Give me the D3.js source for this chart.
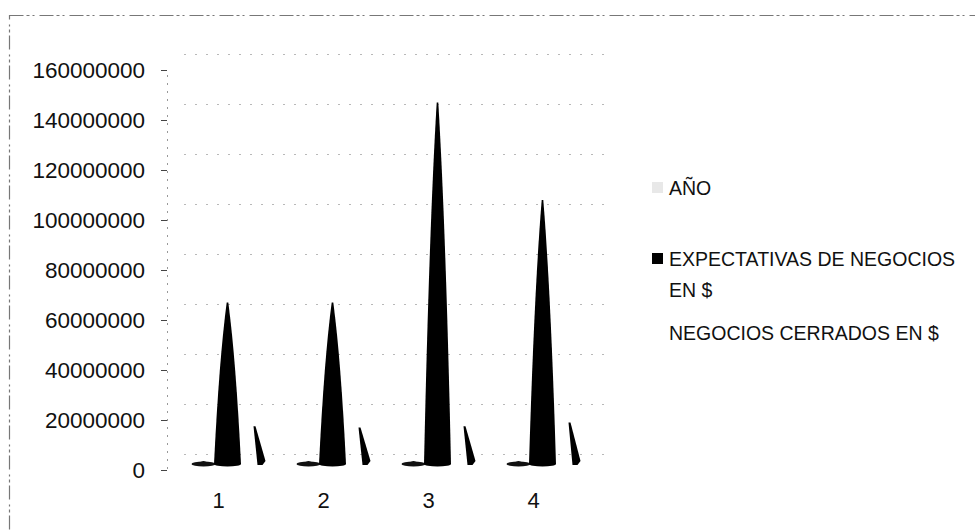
<!DOCTYPE html>
<html><head><meta charset="utf-8">
<script src="https://cdn.jsdelivr.net/npm/d3@7"></script>
<style>
body{margin:0;background:#fff}
svg{display:block;font-family:"Liberation Sans",Arial,sans-serif}
</style>
</head><body>
<svg id="c" width="975" height="532"></svg>
<script>
// ---- data ----
const categories = ["1", "2", "3", "4"];
const seriesNames = ["AÑO", "EXPECTATIVAS DE NEGOCIOS EN $", "NEGOCIOS CERRADOS EN $"];
const anio = [2012, 2013, 2014, 2015];
const expectativas = [65000000, 65000000, 145000000, 106000000];
const cerrados = [15500000, 15000000, 15500000, 17000000];
const yTicks = [0, 20000000, 40000000, 60000000, 80000000, 100000000, 120000000, 140000000, 160000000];
const legendLines = [["AÑO"], ["EXPECTATIVAS DE NEGOCIOS", "EN $"], ["NEGOCIOS CERRADOS EN $"]];

// ---- setup ----
const svg = d3.select("#c");
const W = 975, H = 532;
const y = d3.scaleLinear().domain([0, 160000000]).range([470, 70]);
const x = d3.scaleBand().domain(categories).range([166, 586]);
const cx = c => x(c) + x.bandwidth() / 2;
const depth = 5;      // front cones sit slightly above the front axis
const backDy = 16, backX0 = 184, backX1 = 604;

// chart border (faint, degraded look)
svg.append("rect")
  .attr("x", 9.5).attr("y", 15.5).attr("width", W + 20).attr("height", H + 20)
  .attr("fill", "none").attr("stroke", "#777").attr("stroke-width", 1.2)
  .attr("stroke-dasharray", "14,3,3,3,2,5");

// back wall gridlines
svg.append("g").selectAll("line").data(yTicks).join("line")
  .attr("x1", backX0).attr("x2", backX1)
  .attr("y1", d => y(d) - backDy + 0.5).attr("y2", d => y(d) - backDy + 0.5)
  .attr("stroke", "#b8b8b8").attr("stroke-width", 1)
  .attr("stroke-dasharray", "2,9");

// y axis
const ya = svg.append("g").attr("transform", "translate(167,0)")
  .call(d3.axisLeft(y).tickValues(yTicks).tickFormat(d3.format("d")).tickSize(6).tickPadding(16));
ya.select(".domain").attr("stroke", "#999").attr("stroke-dasharray", "2,6");
ya.selectAll(".tick line").attr("stroke", "#444");
ya.selectAll(".tick text").attr("font-size", "22.5px").attr("fill", "#111")
  .attr("font-family", "'Liberation Sans',Arial,sans-serif");

// x axis labels
const xa = svg.append("g").attr("transform", "translate(0,492)")
  .call(d3.axisBottom(x).tickSize(0).tickPadding(0));
xa.select(".domain").remove();
xa.selectAll(".tick text").attr("font-size", "22px").attr("fill", "#111")
  .attr("font-family", "'Liberation Sans',Arial,sans-serif");

const base = y(0) - depth;

// AÑO series: very low, flat cones
const gA = svg.append("g");
categories.forEach((c, i) => {
  const m = cx(c) - 15;
  const top = Math.min(y(anio[i]) - depth, base - 3);
  gA.append("path")
    .attr("d", `M${m - 12},${base} L${m},${top - 1} L${m + 12},${base} Z`)
    .attr("fill", "#111");
  gA.append("ellipse").attr("cx", m).attr("cy", base - 1).attr("rx", 12).attr("ry", 2.5).attr("fill", "#111");
});

// EXPECTATIVAS series: black cones (slightly convex profile)
const gE = svg.append("g");
categories.forEach((c, i) => {
  const m = cx(c) + 9;
  const top = y(expectativas[i]) - depth;
  const h = base - top, r = 13.5;
  gE.append("path")
    .attr("d", `M${m - r},${base - 1} Q${m - r * 0.62},${top + h * 0.35} ${m - 0.8},${top} ` +
               `L${m + 0.8},${top} Q${m + r * 0.62},${top + h * 0.35} ${m + r},${base - 1} Z`)
    .attr("fill", "#000");
  gE.append("ellipse").attr("cx", m).attr("cy", base - 1).attr("rx", r).attr("ry", 2.5).attr("fill", "#000");
});

// NEGOCIOS CERRADOS series: light cones, only the shaded side visible
const gN = svg.append("g");
categories.forEach((c, i) => {
  const m = cx(c) + 35;
  const top = y(cerrados[i]) - depth;
  gN.append("path")
    .attr("d", `M${m},${top} L${m + 2},${top} L${m + 12},${base - 4} L${m + 9},${base} L${m + 4},${base} Z`)
    .attr("fill", "#000");
});

// legend
const legY = [188, 259, 333];
const legColors = ["#e8e8e8", "#000", "#fff"];
const lg = svg.append("g");
seriesNames.forEach((s, i) => {
  lg.append("rect").attr("x", 652).attr("y", legY[i] - 6).attr("width", 11).attr("height", 11)
    .attr("fill", legColors[i]);
  legendLines[i].forEach((t, j) => {
    lg.append("text").attr("x", 669).attr("y", legY[i] + 7 + j * 31)
      .attr("font-size", "19.5px").attr("fill", "#111").text(t);
  });
});
</script>
</body></html>
